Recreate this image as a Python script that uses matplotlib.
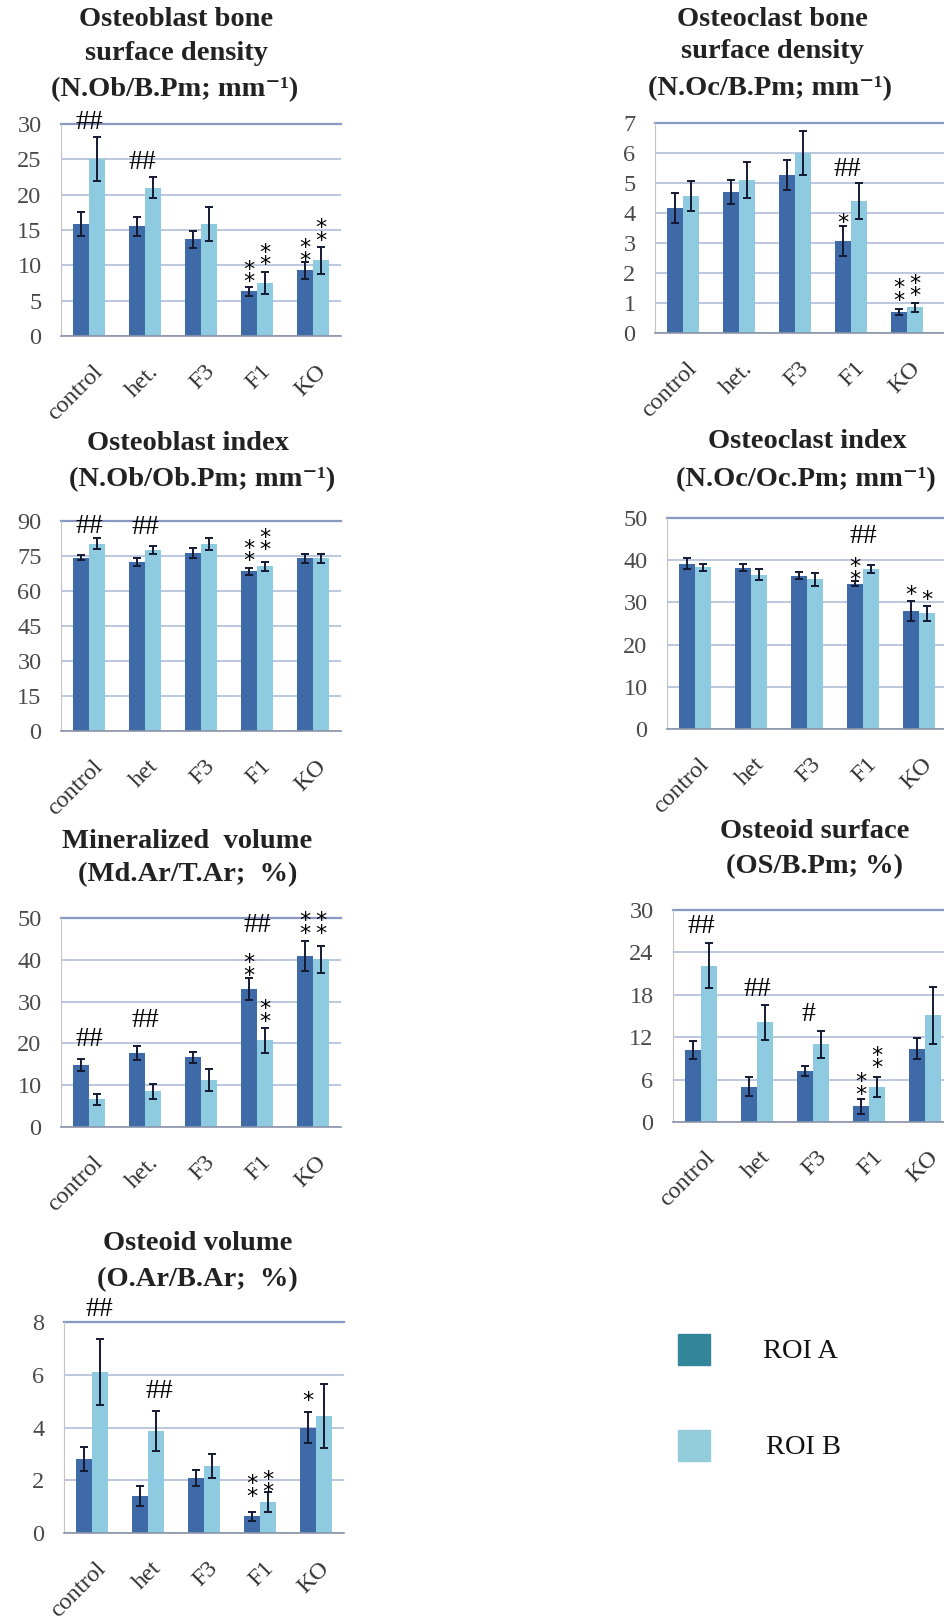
import numpy as np
import matplotlib
matplotlib.use('Agg')
import matplotlib.pyplot as plt
from matplotlib.patches import Rectangle

plt.rcParams['font.family'] = ['Liberation Serif', 'DejaVu Serif']

groups = ['control', 'het.', 'F3', 'F1', 'KO']
groups_b = ['control', 'het', 'F3', 'F1', 'KO']

S1 = '*'
S2 = '*\n*'

# osteoblast bone surface density (N.Ob/B.Pm)
ob_dens_a = [15.8, 15.5, 13.7, 6.3, 9.3]
ob_dens_a_err = [1.7, 1.3, 1.2, 0.6, 1.2]
ob_dens_b = [25.1, 21.0, 15.8, 7.5, 10.7]
ob_dens_b_err = [3.1, 1.5, 2.4, 1.6, 1.9]
ob_dens_notes = [('##', 0, 0.0, 30.6), ('##', 1, -0.05, 24.9),
                 (S2, 3, -0.14, 8.6), (S2, 3, 0.14, 11.0),
                 (S2, 4, -0.14, 11.7), (S2, 4, 0.14, 14.5)]

# osteoclast bone surface density (N.Oc/B.Pm)
oc_dens_a = [4.15, 4.7, 5.25, 3.05, 0.7]
oc_dens_a_err = [0.5, 0.4, 0.5, 0.5, 0.1]
oc_dens_b = [4.55, 5.1, 6.0, 4.4, 0.85]
oc_dens_b_err = [0.5, 0.6, 0.75, 0.6, 0.15]
oc_dens_notes = [('##', 3, -0.07, 5.55), (S1, 3, -0.14, 3.9),
                 (S2, 4, -0.14, 1.31), (S2, 4, 0.14, 1.47)]

# osteoblast index (N.Ob/Ob.Pm)
ob_idx_a = [74.3, 72.4, 76.3, 68.5, 74.0]
ob_idx_a_err = [1.0, 1.6, 2.0, 1.5, 2.0]
ob_idx_b = [80.3, 77.5, 80.0, 70.5, 74.0]
ob_idx_b_err = [2.2, 1.8, 2.5, 1.8, 2.0]
ob_idx_notes = [('##', 0, 0.0, 88.8), ('##', 1, 0.0, 88.4),
                (S2, 3, -0.14, 75.8), (S2, 3, 0.14, 80.5)]

# osteoclast index (N.Oc/Oc.Pm)
oc_idx_a = [39.2, 38.2, 36.3, 34.4, 27.9]
oc_idx_a_err = [1.3, 0.8, 0.8, 0.6, 2.4]
oc_idx_b = [38.3, 36.6, 35.5, 37.9, 27.4]
oc_idx_b_err = [0.9, 1.3, 1.5, 1.0, 1.8]
oc_idx_notes = [('##', 3, 0.0, 46.4), (S2, 3, -0.14, 37.1),
                (S1, 4, -0.14, 33.4), (S1, 4, 0.14, 32.2)]

# mineralized volume (Md.Ar/T.Ar)
md_vol_a = [14.8, 17.7, 16.7, 33.0, 41.0]
md_vol_a_err = [1.5, 1.6, 1.3, 2.6, 3.6]
md_vol_b = [6.6, 8.6, 11.3, 20.7, 40.1]
md_vol_b_err = [1.4, 1.8, 2.6, 3.0, 3.2]
md_vol_notes = [('##', 0, 0.0, 21.7), ('##', 1, 0.0, 26.1), ('##', 3, 0.0, 48.8),
                (S2, 3, -0.14, 37.9), (S2, 3, 0.14, 26.9),
                (S2, 4, -0.14, 48.0), (S2, 4, 0.14, 48.0)]

# osteoid surface (OS/B.Pm)
os_surf_a = [10.2, 5.0, 7.2, 2.2, 10.4]
os_surf_a_err = [1.3, 1.3, 0.7, 1.0, 1.5]
os_surf_b = [22.1, 14.1, 11.0, 5.0, 15.1]
os_surf_b_err = [3.2, 2.5, 1.9, 1.4, 4.0]
os_surf_notes = [('##', 0, 0.0, 28.1), ('##', 1, 0.0, 19.1), ('#', 2, -0.08, 15.6),
                 (S2, 3, -0.14, 4.9), (S2, 3, 0.14, 8.6)]

# osteoid volume (O.Ar/B.Ar)
o_vol_a = [2.8, 1.4, 2.1, 0.63, 4.0]
o_vol_a_err = [0.45, 0.38, 0.3, 0.16, 0.6]
o_vol_b = [6.1, 3.87, 2.54, 1.18, 4.44]
o_vol_b_err = [1.26, 0.76, 0.44, 0.38, 1.2]
o_vol_notes = [('##', 0, 0.14, 8.57), ('##', 1, 0.2, 5.47),
               (S2, 3, -0.14, 1.64), (S2, 3, 0.14, 1.81),
               (S1, 4, -0.14, 5.28)]

DARK = '#3e6aa7'
LIGHT = '#8ecae0'
ERR = '#151a33'
GRID = '#a9b8d6'
TOPLINE = '#8797c2'

W, H = 944, 1617
fig = plt.figure(figsize=(W / 100, H / 100), dpi=100)


def px_axes(left, right, top, bottom):
    return fig.add_axes([left / W, 1 - bottom / H, (right - left) / W, (bottom - top) / H])


def title_line(x, y, s):
    fig.text(x / W, 1 - y / H, s, ha='center', va='center', fontsize=20.5,
             fontweight='bold', color='#222222')


def panel(ax, cats, a, a_err, b, b_err, ymax, ystep, xmax, notes):
    x = np.arange(len(cats))
    ax.bar(x - 0.14, a, 0.28, color=DARK, zorder=2)
    ax.bar(x + 0.14, b, 0.28, color=LIGHT, zorder=2)
    for xs, v, e in ((x - 0.14, a, a_err), (x + 0.14, b, b_err)):
        ax.errorbar(xs, v, yerr=e, fmt='none', ecolor=ERR, elinewidth=1.4,
                    capsize=3, capthick=1.4, zorder=3)
    ax.set_xlim(-0.5, xmax)
    ax.set_ylim(0, ymax)
    ax.set_yticks(np.arange(0, ymax + ystep / 2, ystep))
    ax.yaxis.grid(True, color=GRID, lw=1.1)
    ax.set_axisbelow(True)
    ax.axhline(ymax, color=TOPLINE, lw=1.6, clip_on=False, zorder=1)
    for s in ('top', 'right'):
        ax.spines[s].set_visible(False)
    ax.spines['left'].set_color('#c4c4c4')
    ax.spines['bottom'].set_color('#8a93a8')
    ax.spines['bottom'].set_linewidth(1.2)
    ax.tick_params(axis='y', length=0, pad=14, labelsize=17.5, labelcolor='#4a4a4a')
    ax.set_xticks([])
    for i, c in enumerate(cats):
        ax.annotate(c, xy=(i, 0), xycoords=('data', 'axes fraction'), xytext=(2, -18),
                    textcoords='offset points', rotation=45, ha='right', va='top',
                    rotation_mode='anchor', fontsize=17.5, color='#333333')
    # significance marks; y is the centre of the lowest glyph
    for txt, i, dx, y in notes:
        if txt.startswith('*'):
            ax.annotate(txt, xy=(i + dx, y), xytext=(0, -9.5), textcoords='offset points',
                        ha='center', va='baseline', fontsize=16, family='DejaVu Sans',
                        linespacing=0.53, annotation_clip=False, color='black')
        else:
            ax.annotate(txt, xy=(i + dx, y), xytext=(0, -6.8), textcoords='offset points',
                        ha='center', va='baseline', fontsize=20, annotation_clip=False,
                        color='black')


ax1 = px_axes(61, 341, 124, 336)
panel(ax1, groups, ob_dens_a, ob_dens_a_err, ob_dens_b, ob_dens_b_err, 30, 5, 4.5, ob_dens_notes)
title_line(176, 20, 'Osteoblast bone')
title_line(176, 54, 'surface density')
title_line(175, 90, '(N.Ob/B.Pm; mm⁻¹)')

ax2 = px_axes(655, 944, 123, 333)
panel(ax2, groups, oc_dens_a, oc_dens_a_err, oc_dens_b, oc_dens_b_err, 7, 1, -0.5 + 289 / 56, oc_dens_notes)
title_line(772, 19, 'Osteoclast bone')
title_line(772, 52, 'surface density')
title_line(770, 89, '(N.Oc/B.Pm; mm⁻¹)')

ax3 = px_axes(61, 341, 521, 731)
panel(ax3, groups_b, ob_idx_a, ob_idx_a_err, ob_idx_b, ob_idx_b_err, 90, 15, 4.5, ob_idx_notes)
title_line(188, 444, 'Osteoblast index')
title_line(202, 480, '(N.Ob/Ob.Pm; mm⁻¹)')

ax4 = px_axes(667, 944, 518, 729)
panel(ax4, groups_b, oc_idx_a, oc_idx_a_err, oc_idx_b, oc_idx_b_err, 50, 10, -0.5 + 277 / 56, oc_idx_notes)
title_line(807, 442, 'Osteoclast index')
title_line(806, 480, '(N.Oc/Oc.Pm; mm⁻¹)')

ax5 = px_axes(61, 341, 918, 1127)
panel(ax5, groups, md_vol_a, md_vol_a_err, md_vol_b, md_vol_b_err, 50, 10, 4.5, md_vol_notes)
title_line(187, 841, 'Mineralized  volume')
title_line(188, 875, '(Md.Ar/T.Ar;  %)')

ax6 = px_axes(673, 944, 910, 1122)
panel(ax6, groups_b, os_surf_a, os_surf_a_err, os_surf_b, os_surf_b_err, 30, 6, -0.5 + 271 / 56, os_surf_notes)
title_line(815, 831, 'Osteoid surface')
title_line(815, 867, '(OS/B.Pm; %)')

ax7 = px_axes(64, 344, 1322, 1533)
panel(ax7, groups_b, o_vol_a, o_vol_a_err, o_vol_b, o_vol_b_err, 8, 2, 4.5, o_vol_notes)
title_line(198, 1243, 'Osteoid volume')
title_line(197, 1280, '(O.Ar/B.Ar;  %)')

# legend keys
for top, col, label, tx in ((1334, '#33859a', 'ROI A', 763), (1430, '#93cddc', 'ROI B', 766)):
    fig.add_artist(Rectangle((678 / W, 1 - (top + 31) / H), 32 / W, 31 / H,
                             transform=fig.transFigure, color=col))
    fig.text(tx / W, 1 - (top + 17) / H, label, ha='left', va='center',
             fontsize=20.5, color='#111111')

fig.savefig('out.png', dpi=100, facecolor='white')
